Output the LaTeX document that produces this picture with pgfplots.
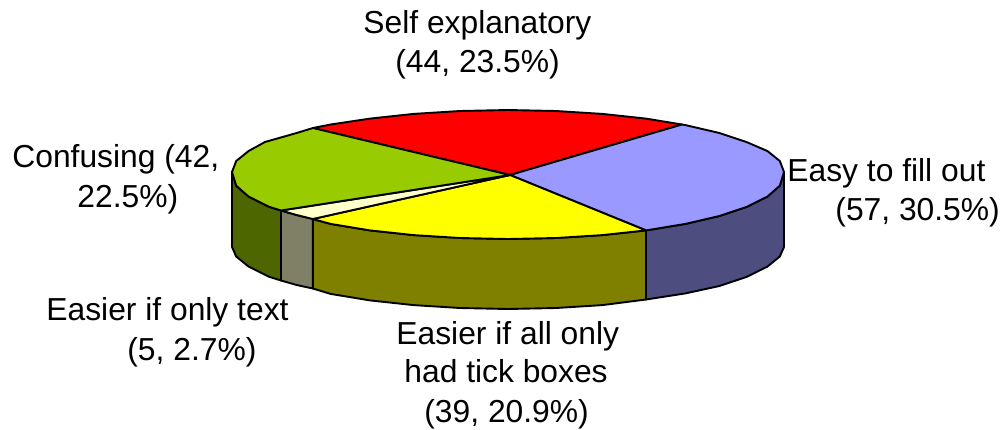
\documentclass[border=0pt]{standalone}
\usepackage{fontspec}
\setmainfont{Liberation Sans}
\usepackage{pgfplots}
\pgfplotsset{compat=1.18}
\definecolor{cblue}{HTML}{9999FF}
\definecolor{cred}{HTML}{FF0000}
\definecolor{cyel}{HTML}{FFFF00}
\definecolor{cwht}{HTML}{FFFFCC}
\definecolor{cgrn}{HTML}{99CC00}
\definecolor{sblue}{HTML}{4D4D80}
\definecolor{syel}{HTML}{808000}
\definecolor{swht}{HTML}{808066}
\definecolor{sgrn}{HTML}{4D6600}
\tikzset{lab/.style={anchor=base west, inner sep=0pt, font=\fontsize{15.9}{18}\selectfont}}
\begin{document}
\begin{tikzpicture}
\begin{axis}[
  scale only axis, width=502pt, height=214.5pt,
  xmin=0, xmax=1004, ymin=0, ymax=429, y dir=reverse,
  hide axis, clip=false,
  every axis plot/.append style={sharp plot, no markers, draw=black, line width=0.95pt, line join=round}
]
% sides
\addplot[fill=sblue] coordinates {(784,172)(779.8,185.7)(767.4,196.6)(747,206.75)(719.4,216)(685.4,223.9)(646,230.4)
 (646,299.5)(685.4,293.4)(719.4,286)(747,276.75)(767.4,266.6)(779.8,256.5)(784,247)} --cycle;
\addplot[fill=syel] coordinates {(646,230.4)(602.4,235.1)(555.9,238)(508,239)(460.1,238)(413.6,235.1)(370,230.4)(330.6,223.9)(312.8,219)
 (312.8,288.5)(330.6,293.9)(370,300.4)(413.6,305.1)(460.1,308)(508,309)(555.9,308)(602.4,305.1)(646,299.5)} --cycle;
\addplot[fill=swht] coordinates {(312.8,219)(296.6,215)(281,210.5)(281,280.5)(296.6,285)(312.8,288.5)} --cycle;
\addplot[fill=sgrn] coordinates {(281,210.5)(269,206.75)(248.6,196.6)(236.2,185.7)(232,172)
 (232,247)(236.2,256.5)(248.6,266.6)(269,276.75)(281,280.5)} --cycle;
% top
\addplot[fill=cred] coordinates {(510,175)(313,128)(330.6,124.5)(370,118.6)(413.6,113.9)(460.1,111)(508,110)(555.9,111)(602.4,113.9)(646,118.6)(682,124.5)} --cycle;
\addplot[fill=cblue] coordinates {(510,175)(682,124.5)(685.4,125.1)(719.4,133)(747,142.25)(767.4,151)(779.8,161)(784,172)(779.8,185.7)(767.4,196.6)(747,206.75)(719.4,216)(685.4,223.9)(646,230.4)} --cycle;
\addplot[fill=cyel] coordinates {(510,175)(646,230.4)(602.4,235.1)(555.9,238)(508,239)(460.1,238)(413.6,235.1)(370,230.4)(330.6,223.9)(312.8,219)} --cycle;
\addplot[fill=cwht] coordinates {(510,175)(312.8,219)(296.6,215)(281,210.5)} --cycle;
\addplot[fill=cgrn] coordinates {(510,175)(281,210.5)(269,206.75)(248.6,196.6)(236.2,185.7)(232,172)(236.2,161)(248.6,151)(265,142)(296.6,133)(313,128)} --cycle;
% labels
\node[lab] at (axis cs:363,33) {Self explanatory};
\node[lab] at (axis cs:395,72) {(44, 23.5\%)};
\node[lab] at (axis cs:787,181) {Easy to fill out};
\node[lab] at (axis cs:835,220) {(57, 30.5\%)};
\node[lab] at (axis cs:12,167) {Confusing (42,};
\node[lab] at (axis cs:77,207) {22.5\%)};
\node[lab] at (axis cs:46,320) {Easier if only text};
\node[lab] at (axis cs:127,360) {(5, 2.7\%)};
\node[lab] at (axis cs:396,344) {Easier if all only};
\node[lab] at (axis cs:404,382) {had tick boxes};
\node[lab] at (axis cs:424,422) {(39, 20.9\%)};
\end{axis}
\pgfresetboundingbox
\path[use as bounding box] (0,0) rectangle (502pt,214.5pt);
\end{tikzpicture}
\end{document}
